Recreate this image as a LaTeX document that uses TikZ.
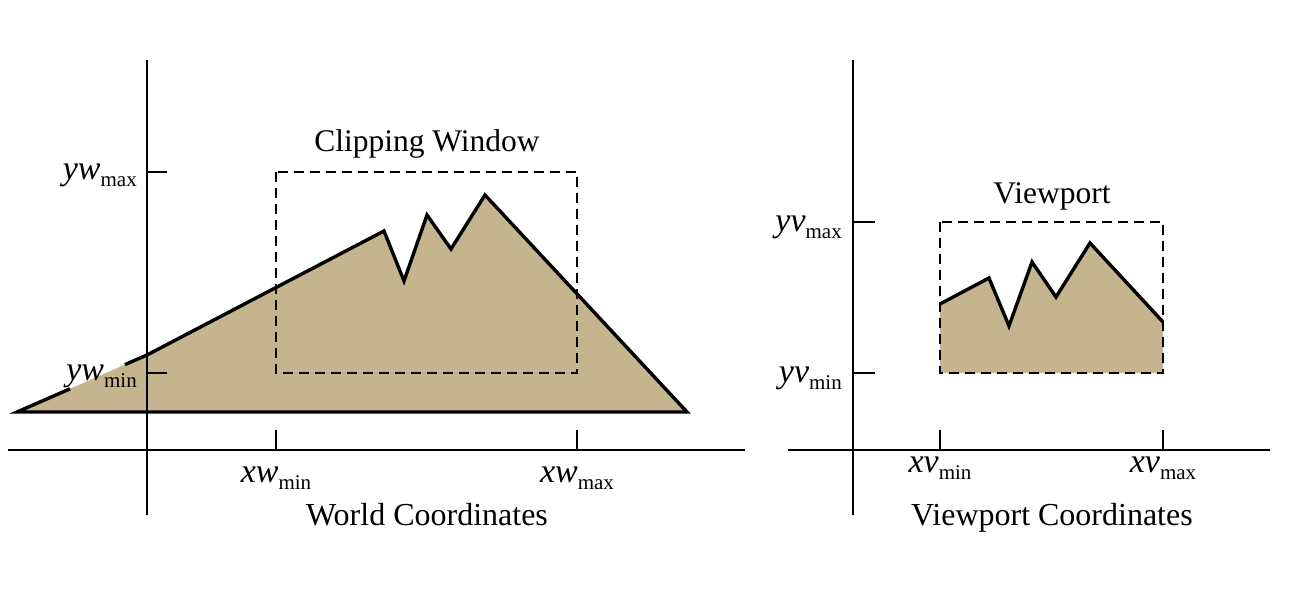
\documentclass[tikz,border=0pt]{standalone}
\usepackage{fontspec}
\setmainfont{Liberation Serif}
\newcommand{\subvar}[2]{{\fontsize{34}{34}\selectfont\itshape #1}\raisebox{-7pt}{\fontsize{21}{21}\selectfont #2}}
\definecolor{landfill}{RGB}{197,181,143}
\tikzset{
  axis/.style={line width=1.5pt, black},
  tick/.style={line width=1.5pt, black},
  window/.style={line width=1.4pt, dash pattern=on 10pt off 6pt, black},
  outline/.style={line width=3.4pt, line join=miter, black},
  region/.style={fill=landfill, draw=none},
  title/.style={font=\fontsize{31.5}{31.5}\selectfont, inner sep=0pt, anchor=base},
  varlabel/.style={inner sep=0pt}
}
\begin{document}
\begin{tikzpicture}[x=1pt,y=-1pt]
\useasboundingbox (0,0) rectangle (1291,590);
% ---------- World coordinates ----------
\coordinate (A) at (17,412);
\coordinate (B) at (147,355);
\coordinate (C) at (384,231);
\coordinate (D) at (404,281);
\coordinate (E) at (427,215);
\coordinate (F) at (451,249);
\coordinate (G) at (485,195);
\coordinate (H) at (687,412);
\coordinate (g1) at (70,388.8);
\coordinate (g2) at (125,364.6);
\fill[region] (A) -- (B) -- (C) -- (D) -- (E) -- (F) -- (G) -- (H) -- cycle;
% axes
\coordinate (wyT) at (147,60);
\coordinate (wyB) at (147,515);
\coordinate (wxL) at (8,450);
\coordinate (wxR) at (745,450);
\draw[axis] (wyT) -- (wyB);
\draw[axis] (wxL) -- (wxR);
% ticks
\coordinate (tyw1) at (147,172); \coordinate (tyw1e) at (167,172);
\coordinate (tyw2) at (147,373); \coordinate (tyw2e) at (167,373);
\coordinate (txw1) at (276,450); \coordinate (txw1e) at (276,430);
\coordinate (txw2) at (577,450); \coordinate (txw2e) at (577,430);
\draw[tick] (tyw1) -- (tyw1e);
\draw[tick] (tyw2) -- (tyw2e);
\draw[tick] (txw1) -- (txw1e);
\draw[tick] (txw2) -- (txw2e);
% clipping window
\coordinate (cw1) at (276,172);
\coordinate (cw2) at (577,373);
\draw[window] (cw1) rectangle (cw2);
% outline with gap at label
\draw[outline] (g2) -- (B) -- (C) -- (D) -- (E) -- (F) -- (G) -- (H) -- (A) -- (g1);
% labels
\node[varlabel, anchor=base east] (ywmax) at (137,179) {\subvar{yw}{max}};
\node[varlabel, anchor=base east] (ywmin) at (137,380) {\subvar{yw}{min}};
\node[varlabel, anchor=base] (xwmin) at (276,482) {\subvar{xw}{min}};
\node[varlabel, anchor=base] (xwmax) at (577,482) {\subvar{xw}{max}};
\node[title] (cwt) at (427,151) {Clipping Window};
\node[title, font=\fontsize{32}{32}\selectfont] (wct) at (427,525) {World Coordinates};
% ---------- Viewport coordinates ----------
\coordinate (P1) at (940,304);
\coordinate (P2) at (989,278);
\coordinate (P3) at (1009,326);
\coordinate (P4) at (1032,262);
\coordinate (P5) at (1056,297);
\coordinate (P6) at (1090,243);
\coordinate (P7) at (1163,322);
\coordinate (P8) at (1163,373);
\coordinate (P9) at (940,373);
\fill[region] (P1) -- (P2) -- (P3) -- (P4) -- (P5) -- (P6) -- (P7) -- (P8) -- (P9) -- cycle;
\coordinate (vyT) at (853,60);
\coordinate (vyB) at (853,515);
\coordinate (vxL) at (788,450);
\coordinate (vxR) at (1270,450);
\draw[axis] (vyT) -- (vyB);
\draw[axis] (vxL) -- (vxR);
\coordinate (tyv1) at (853,222); \coordinate (tyv1e) at (875,222);
\coordinate (tyv2) at (853,373); \coordinate (tyv2e) at (875,373);
\coordinate (txv1) at (940,450); \coordinate (txv1e) at (940,430);
\coordinate (txv2) at (1163,450); \coordinate (txv2e) at (1163,430);
\draw[tick] (tyv1) -- (tyv1e);
\draw[tick] (tyv2) -- (tyv2e);
\draw[tick] (txv1) -- (txv1e);
\draw[tick] (txv2) -- (txv2e);
\coordinate (vp1) at (940,222);
\coordinate (vp2) at (1163,373);
\draw[window] (vp1) rectangle (vp2);
\draw[outline] (P1) -- (P2) -- (P3) -- (P4) -- (P5) -- (P6) -- (P7);
\node[varlabel, anchor=base east] (yvmax) at (842,231) {\subvar{yv}{max}};
\node[varlabel, anchor=base east] (yvmin) at (842,382) {\subvar{yv}{min}};
\node[varlabel, anchor=base] (xvmin) at (940,472) {\subvar{xv}{min}};
\node[varlabel, anchor=base] (xvmax) at (1163,472) {\subvar{xv}{max}};
\node[title] (vpt) at (1052,203) {Viewport};
\node[title, font=\fontsize{32}{32}\selectfont] (vct) at (1052,525) {Viewport Coordinates};
\end{tikzpicture}
\end{document}
